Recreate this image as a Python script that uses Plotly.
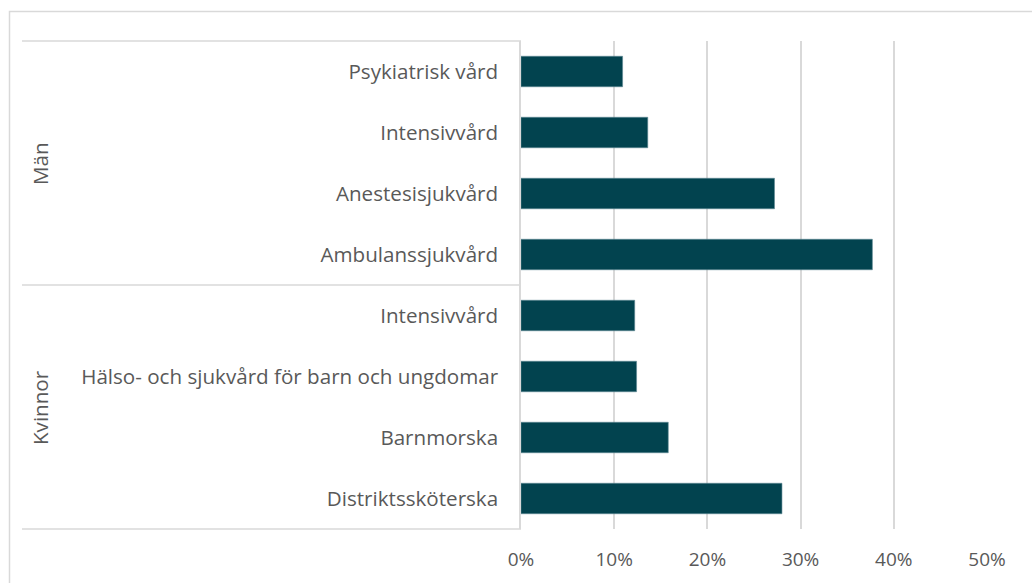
import plotly.graph_objects as go

groups = ["Män", "Kvinnor"]
categories = ["Psykiatrisk vård", "Intensivvård", "Anestesisjukvård", "Ambulanssjukvård",
              "Intensivvård", "Hälso- och sjukvård för barn och ungdomar", "Barnmorska",
              "Distriktssköterska"]
values = [0.109, 0.136, 0.272, 0.377, 0.122, 0.124, 0.158, 0.280]
tick_vals = [0, 0.1, 0.2, 0.3, 0.4, 0.5]
tick_text = ["0%", "10%", "20%", "30%", "40%", "50%"]

W, H = 1032, 583
L, R, T, B = 521, 987, 41, 529
pw, ph = R - L, B - T

def px(x):
    return (x - L) / pw

def py(y):
    return (B - y) / ph

FONT = "Open Sans"
GRAY = "#595959"
LINE = "#d9d9d9"

idx = list(range(len(categories)))
fig = go.Figure(go.Bar(
    x=values, y=idx, orientation="h", width=0.5,
    marker=dict(color="#02434f", line=dict(color="#5f8a93", width=0.6)),
    hoverinfo="x+y",
))

fig.update_layout(
    width=W, height=H,
    margin=dict(l=L, r=W - R, t=T, b=H - B),
    plot_bgcolor="white", paper_bgcolor="white",
    showlegend=False,
    font=dict(family=FONT, color=GRAY, size=20),
    xaxis=dict(range=[0, 0.5], tickvals=tick_vals, ticktext=tick_text,
               showgrid=True, gridcolor=LINE, gridwidth=1.5,
               zeroline=False, showline=False, ticks="", ticklabelstandoff=17,
               tickfont=dict(size=19, color=GRAY, family=FONT)),
    yaxis=dict(range=[len(categories) - 0.5, -0.5], tickvals=idx, ticktext=categories,
               showgrid=False, zeroline=False, showline=True, linecolor=LINE,
               linewidth=1.5, ticks="", ticklabelstandoff=17,
               tickfont=dict(size=20.6, color=GRAY, family=FONT)),
)

shapes = []
# outer chart border
shapes.append(dict(type="rect", xref="paper", yref="paper",
                   x0=px(9.5), x1=px(W + 20), y0=py(H + 20), y1=py(11.5),
                   line=dict(color=LINE, width=1.5), fillcolor="rgba(0,0,0,0)", layer="below"))
# multi-level category axis lines
for yy in [T, (T + B) / 2, B]:
    shapes.append(dict(type="line", xref="paper", yref="paper",
                       x0=px(22), x1=0, y0=py(yy), y1=py(yy),
                       line=dict(color=LINE, width=1.5)))
fig.update_layout(shapes=shapes)

annotations = []
group_centers = [(T + (T + B) / 2) / 2, ((T + B) / 2 + B) / 2]
for g, yc in zip(groups, group_centers):
    annotations.append(dict(text=g, xref="paper", yref="paper", x=px(40), y=py(yc),
                            textangle=-90, showarrow=False, xanchor="center", yanchor="middle",
                            font=dict(size=20.6, color=GRAY, family=FONT)))
fig.update_layout(annotations=annotations)

fig.write_html("out.html", config={"displayModeBar": False},
               post_script="document.body.style.margin='0px';")
